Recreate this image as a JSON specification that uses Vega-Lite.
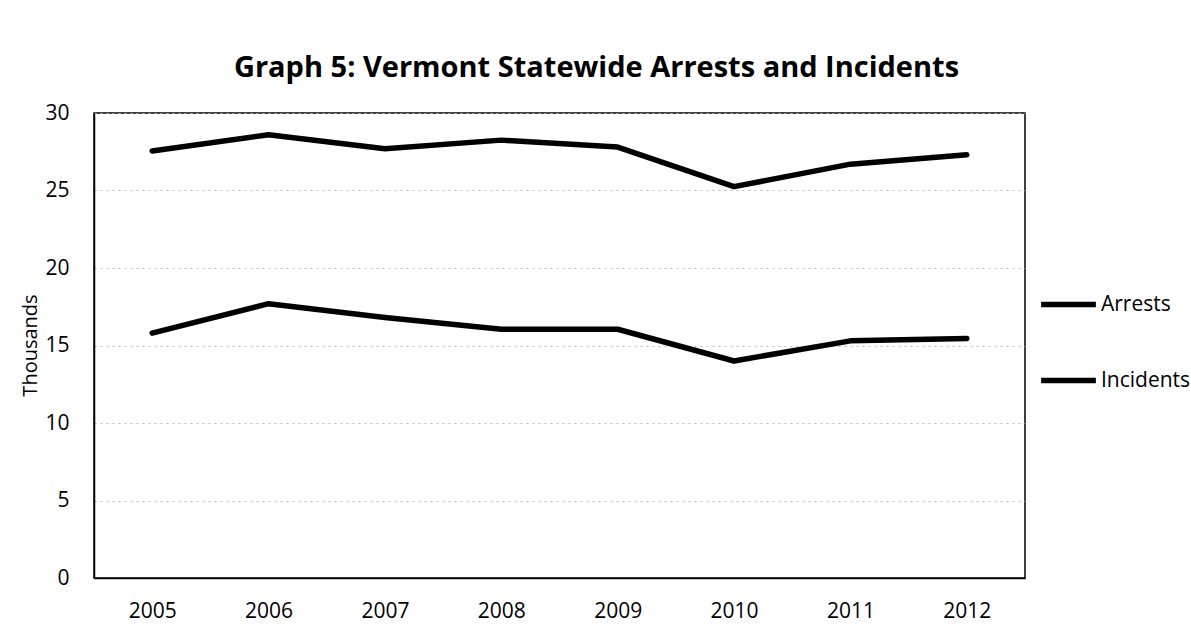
{
  "$schema": "https://vega.github.io/schema/vega-lite/v6.json",
  "autosize": {"type": "none"},
  "width": 931,
  "height": 465,
  "padding": {"left": 94, "top": 113, "right": 166, "bottom": 51},
  "background": "white",
  "title": {
    "text": "Graph 5: Vermont Statewide Arrests and Incidents",
    "font": "Open Sans",
    "fontSize": 29,
    "fontWeight": "bold",
    "color": "black",
    "anchor": "middle",
    "frame": "group",
    "dx": 37,
    "offset": 19
  },
  "config": {
    "view": {"stroke": "black", "strokeWidth": 1.5},
    "font": "Open Sans"
  },
  "data": {
    "values": [
      {"year": "2005", "series": "Arrests", "value": 27.55},
      {"year": "2006", "series": "Arrests", "value": 28.6},
      {"year": "2007", "series": "Arrests", "value": 27.7},
      {"year": "2008", "series": "Arrests", "value": 28.25},
      {"year": "2009", "series": "Arrests", "value": 27.8},
      {"year": "2010", "series": "Arrests", "value": 25.25},
      {"year": "2011", "series": "Arrests", "value": 26.7},
      {"year": "2012", "series": "Arrests", "value": 27.3},
      {"year": "2005", "series": "Incidents", "value": 15.8},
      {"year": "2006", "series": "Incidents", "value": 17.7},
      {"year": "2007", "series": "Incidents", "value": 16.8},
      {"year": "2008", "series": "Incidents", "value": 16.05},
      {"year": "2009", "series": "Incidents", "value": 16.05},
      {"year": "2010", "series": "Incidents", "value": 14.0},
      {"year": "2011", "series": "Incidents", "value": 15.3},
      {"year": "2012", "series": "Incidents", "value": 15.45}
    ]
  },
  "mark": {"type": "line", "strokeWidth": 5.5, "strokeCap": "round", "strokeJoin": "round"},
  "encoding": {
    "x": {
      "field": "year",
      "type": "ordinal",
      "scale": {"type": "point", "padding": 0.5},
      "axis": {
        "title": null,
        "labelAngle": 0,
        "labelFontSize": 21,
        "labelColor": "black",
        "labelPadding": 22,
        "ticks": false,
        "grid": false,
        "domainColor": "black",
        "domainWidth": 1.5
      }
    },
    "y": {
      "field": "value",
      "type": "quantitative",
      "scale": {"domain": [0, 30], "nice": false},
      "axis": {
        "title": "Thousands",
        "titleFontSize": 20,
        "titleFontWeight": "normal",
        "titleColor": "black",
        "titleX": -64,
        "titleY": 232,
        "titleAlign": "center",
        "titleBaseline": "middle",
        "values": [0, 5, 10, 15, 20, 25, 30],
        "labelFontSize": 21,
        "labelColor": "black",
        "labelPadding": 25,
        "ticks": false,
        "grid": true,
        "gridColor": "#bbbbbb",
        "gridDash": [2, 4],
        "gridWidth": 1,
        "domainColor": "black",
        "domainWidth": 1.5
      }
    },
    "color": {
      "field": "series",
      "type": "nominal",
      "scale": {"domain": ["Arrests", "Incidents"], "range": ["black", "black"]},
      "legend": {
        "title": null,
        "orient": "none",
        "legendX": 944,
        "legendY": 161,
        "symbolType": "stroke",
        "symbolSize": 3000,
        "symbolStrokeWidth": 5.5,
        "labelFontSize": 21,
        "labelColor": "black",
        "labelOffset": 2,
        "rowPadding": 34
      }
    }
  }
}
